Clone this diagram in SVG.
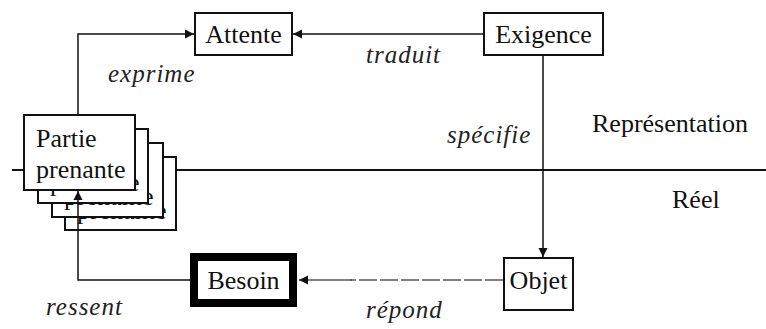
<svg xmlns="http://www.w3.org/2000/svg" width="766" height="329" viewBox="0 0 766 329">
<style>
.box{fill:#fff;stroke:#111;stroke-width:2}
.t{font-family:'Liberation Serif','Times New Roman',Times,serif;font-size:26px;fill:#111}
.i{font-family:'Liberation Serif','Times New Roman',Times,serif;font-size:25px;font-style:italic;fill:#222;letter-spacing:1px}
.ln{fill:none;stroke:#111;stroke-width:1.5}
</style>
<defs>
<marker id="ah" markerWidth="10" markerHeight="10" refX="9" refY="5" orient="auto" markerUnits="userSpaceOnUse">
<path d="M0,0.5 L9,5 L0,9.5 z" fill="#111"/>
</marker>
</defs>
<rect width="766" height="329" fill="#fff"/>
<g id="separator">
<line x1="12" y1="170" x2="766" y2="170" stroke="#111" stroke-width="2"/>
<text class="t" x="592" y="132">Représentation</text>
<text class="t" x="672" y="208">Réel</text>
</g>
<g id="partie-prenante">
<rect class="box" x="65" y="157" width="111" height="73"/>
<text class="t" x="77" y="219">prenante</text>
<rect class="box" x="52" y="143" width="111" height="74"/>
<text class="t" x="64" y="205">prenante</text>
<rect class="box" x="38" y="129" width="110" height="74"/>
<text class="t" x="50" y="191">prenante</text>
</g>
<g id="connectors">
<polyline class="ln" points="78,115 78,34 194,34" marker-end="url(#ah)"/>
<line class="ln" x1="484" y1="34" x2="293" y2="34" marker-end="url(#ah)"/>
<line class="ln" x1="543" y1="55" x2="543" y2="257" marker-end="url(#ah)"/>
<polyline class="ln" points="190,280 78,280 78,191" marker-end="url(#ah)" stroke="#444"/>
<line x1="503" y1="280" x2="350" y2="280" stroke="#555" stroke-width="1.5" stroke-dasharray="18,3"/>
<line x1="352" y1="280" x2="299" y2="280" stroke="#555" stroke-width="1.5" marker-end="url(#ah)"/>
</g>
<g id="partie-prenante-front">
<rect class="box" x="24" y="115" width="111" height="75"/>
<text class="t" x="36" y="147">Partie</text><text class="t" x="36" y="178">prenante</text>
</g>
<g id="attente">
<rect class="box" x="195" y="13" width="97" height="42"/>
<text class="t" x="243.5" y="43" text-anchor="middle">Attente</text>
</g>
<g id="exigence">
<rect class="box" x="484" y="13" width="119" height="42"/>
<text class="t" x="543.5" y="43" text-anchor="middle">Exigence</text>
</g>
<g id="besoin">
<rect x="194" y="257" width="99" height="46" fill="#fff" stroke="#000" stroke-width="8"/>
<text class="t" x="243.5" y="289" text-anchor="middle">Besoin</text>
</g>
<g id="objet">
<rect class="box" x="504" y="258" width="69" height="52"/>
<text class="t" x="538.5" y="289" text-anchor="middle">Objet</text>
</g>
<g id="labels">
<text class="i" x="108" y="82">exprime</text>
<text class="i" x="366" y="63">traduit</text>
<text class="i" x="447" y="143">spécifie</text>
<text class="i" x="366" y="318">répond</text>
<text class="i" x="46" y="315">ressent</text>
</g>
</svg>
